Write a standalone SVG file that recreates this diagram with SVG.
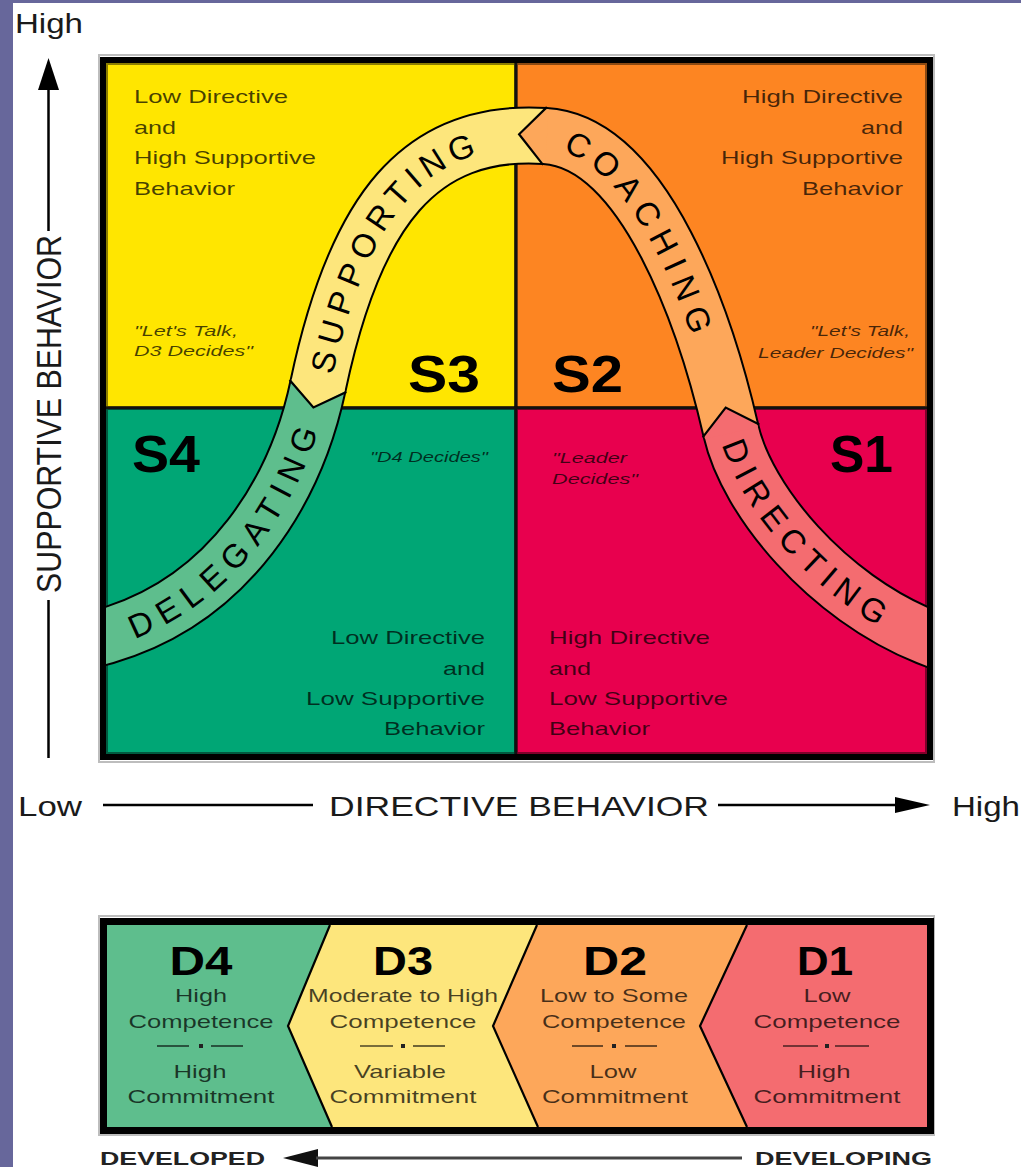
<svg xmlns="http://www.w3.org/2000/svg" width="1021" height="1167" viewBox="0 0 1021 1167">
<style>
text{font-family:"Liberation Sans",Arial,Helvetica,sans-serif}
.ax{font-size:28px;fill:#1a1a1a}
.q{font-size:19px;fill:#000;fill-opacity:.72}
.qi{font-size:14.5px;font-style:italic;fill:#000;fill-opacity:.72}
.s{font-size:52px;font-weight:bold;fill:#000}
.bt{font-size:33px;fill:#000;dominant-baseline:central;text-anchor:middle}
.dh{font-size:40px;font-weight:bold;fill:#000;text-anchor:middle}
.d{font-size:19px;fill:#000;fill-opacity:.72;text-anchor:middle}
.dev{font-size:19px;font-weight:bold;fill:#222}
.edge{fill:none;stroke:#000;stroke-opacity:.45;stroke-width:4}
.chev{fill:none;stroke:#000;stroke-width:2.2;stroke-linejoin:miter}
.sep{stroke:#000;stroke-opacity:.7;stroke-width:1.6}
.axl{stroke:#000;stroke-width:2.5}
.band{fill:none;stroke-width:54}
</style>
<defs>
<clipPath id="boxclip"><rect x="106" y="63" width="821" height="691"/></clipPath>
<path id="cl" d="M88,641 L106,636 C230,600 296,490 318,386 C355,210 420,128 545,136 C645,142 706,322 731,431 C747,501 827,597 927,637 L945,644"/>
<path id="t1" d="M106,636 C230,600 296,490 318,386"/>
<path id="t2" d="M318,386 C355,210 420,128 545,136"/>
<path id="t3" d="M545,136 C645,142 706,322 731,431"/>
<path id="t4" d="M731,431 C747,501 827,597 927,637"/>
</defs>

<rect x="0" y="0" width="1021" height="1167" fill="#fff"/>
<rect x="0" y="0" width="13" height="1167" fill="#67679B"/>
<rect x="0" y="0" width="1021" height="3" fill="#67679B"/>

<g id="axis-y">
<text class="ax" x="15" y="33" textLength="68" lengthAdjust="spacingAndGlyphs">High</text>
<polygon points="38,90 48.5,58 59,90" fill="#000"/>
<line class="axl" x1="48.5" y1="88" x2="48.5" y2="231"/>
<line class="axl" x1="48.5" y1="600" x2="48.5" y2="758"/>
<text class="ax" transform="translate(50,414) scale(1.22,1) rotate(-90)" text-anchor="middle" dominant-baseline="central" textLength="358" lengthAdjust="spacingAndGlyphs">SUPPORTIVE  BEHAVIOR</text>
</g>

<g id="axis-x">
<text class="ax" x="18" y="816" textLength="64" lengthAdjust="spacingAndGlyphs">Low</text>
<line class="axl" x1="103" y1="805" x2="313" y2="805"/>
<text class="ax" x="329" y="816" textLength="380" lengthAdjust="spacingAndGlyphs">DIRECTIVE  BEHAVIOR</text>
<line class="axl" x1="718" y1="805" x2="898" y2="805"/>
<polygon points="895,797 930,805 895,813" fill="#000"/>
<text class="ax" x="952" y="816" textLength="68" lengthAdjust="spacingAndGlyphs">High</text>
</g>

<rect x="99" y="55" width="835" height="707" fill="none" stroke="#bdbdbd" stroke-width="2"/>

<g id="q-s3">
<rect x="106" y="63" width="410" height="345" fill="#FFE600"/>
<rect class="edge" x="106" y="63" width="410" height="345"/>
<text class="q" x="134" y="103" textLength="154" lengthAdjust="spacingAndGlyphs">Low Directive</text>
<text class="q" x="134" y="134" textLength="42" lengthAdjust="spacingAndGlyphs">and</text>
<text class="q" x="134" y="164" textLength="182" lengthAdjust="spacingAndGlyphs">High Supportive</text>
<text class="q" x="134" y="195" textLength="101" lengthAdjust="spacingAndGlyphs">Behavior</text>
<text class="qi" x="134" y="336" textLength="104" lengthAdjust="spacingAndGlyphs">"Let's Talk,</text>
<text class="qi" x="134" y="356" textLength="119" lengthAdjust="spacingAndGlyphs">D3 Decides"</text>
<text class="s" x="408" y="392" textLength="72" lengthAdjust="spacingAndGlyphs">S3</text>
</g>

<g id="q-s2">
<rect x="516" y="63" width="411" height="345" fill="#FD8522"/>
<rect class="edge" x="516" y="63" width="411" height="345"/>
<text class="q" x="903" y="103" text-anchor="end" textLength="161" lengthAdjust="spacingAndGlyphs">High Directive</text>
<text class="q" x="903" y="134" text-anchor="end" textLength="42" lengthAdjust="spacingAndGlyphs">and</text>
<text class="q" x="903" y="164" text-anchor="end" textLength="182" lengthAdjust="spacingAndGlyphs">High Supportive</text>
<text class="q" x="903" y="195" text-anchor="end" textLength="101" lengthAdjust="spacingAndGlyphs">Behavior</text>
<text class="qi" x="910" y="336" text-anchor="end" textLength="100" lengthAdjust="spacingAndGlyphs">"Let's Talk,</text>
<text class="qi" x="913" y="358" text-anchor="end" textLength="155" lengthAdjust="spacingAndGlyphs">Leader Decides"</text>
<text class="s" x="552" y="392" textLength="71" lengthAdjust="spacingAndGlyphs">S2</text>
</g>

<g id="q-s4">
<rect x="106" y="408" width="410" height="346" fill="#00A675"/>
<rect class="edge" x="106" y="408" width="410" height="346"/>
<text class="s" x="132" y="472" textLength="68" lengthAdjust="spacingAndGlyphs">S4</text>
<text class="qi" x="370" y="462" textLength="118" lengthAdjust="spacingAndGlyphs">"D4 Decides"</text>
<text class="q" x="485" y="644" text-anchor="end" textLength="154" lengthAdjust="spacingAndGlyphs">Low Directive</text>
<text class="q" x="485" y="675" text-anchor="end" textLength="42" lengthAdjust="spacingAndGlyphs">and</text>
<text class="q" x="485" y="705" text-anchor="end" textLength="179" lengthAdjust="spacingAndGlyphs">Low Supportive</text>
<text class="q" x="485" y="735" text-anchor="end" textLength="101" lengthAdjust="spacingAndGlyphs">Behavior</text>
</g>

<g id="q-s1">
<rect x="516" y="408" width="411" height="346" fill="#E8004E"/>
<rect class="edge" x="516" y="408" width="411" height="346"/>
<text class="s" x="830" y="472" textLength="63" lengthAdjust="spacingAndGlyphs">S1</text>
<text class="qi" x="552" y="463" textLength="75" lengthAdjust="spacingAndGlyphs">"Leader</text>
<text class="qi" x="552" y="484" textLength="86" lengthAdjust="spacingAndGlyphs">Decides"</text>
<text class="q" x="549" y="644" textLength="161" lengthAdjust="spacingAndGlyphs">High Directive</text>
<text class="q" x="549" y="675" textLength="42" lengthAdjust="spacingAndGlyphs">and</text>
<text class="q" x="549" y="705" textLength="179" lengthAdjust="spacingAndGlyphs">Low Supportive</text>
<text class="q" x="549" y="735" textLength="101" lengthAdjust="spacingAndGlyphs">Behavior</text>
</g>

<g id="dividers">
<line x1="516" y1="63" x2="516" y2="754" stroke="#111" stroke-width="2.5"/>
<line x1="106" y1="408" x2="927" y2="408" stroke="#111" stroke-width="2.5"/>
</g>

<g id="connectors" clip-path="url(#boxclip)">
<use href="#cl" fill="none" stroke="#000" stroke-width="58"/>
<path class="band" stroke="#5EBE8D" d="M88,641 L106,636 C230,600 296,490 318,386"/>
<path class="band" stroke="#FDE67C" d="M318,386 C355,210 420,128 545,136"/>
<path class="band" stroke="#FDA75A" d="M545,136 C645,142 706,322 731,431"/>
<path class="band" stroke="#F46C70" d="M731,431 C747,501 827,597 927,637 L945,644"/>
<polygon fill="#FDE67C" points="292.0,378.4 291.6,380.4 313.4,407.5 344.4,391.6 344.8,389.6"/>
<polyline class="chev" points="289.6,380.0 313.4,407.5 346.4,392.0"/>
<polygon fill="#FDA75A" points="548.7,109.2 546.7,109.1 519.1,134.3 543.3,162.9 545.3,163.0"/>
<polyline class="chev" points="546.9,107.1 519.1,134.3 543.1,164.9"/>
<polygon fill="#F46C70" points="757.8,427.0 757.4,425.1 725.7,407.6 704.6,436.9 705.0,438.9"/>
<polyline class="chev" points="759.3,424.6 725.7,407.6 702.7,437.4"/>
<text class="bt" letter-spacing="7.4"><textPath href="#t1" startOffset="167">DELEGATING</textPath></text>
<text class="bt" letter-spacing="7.9"><textPath href="#t2" startOffset="162">SUPPORTING</textPath></text>
<text class="bt" letter-spacing="9"><textPath href="#t3" startOffset="148">COACHING</textPath></text>
<text class="bt" letter-spacing="6.9"><textPath href="#t4" startOffset="131">DIRECTING</textPath></text>
</g>

<rect x="103" y="60" width="827" height="697" fill="none" stroke="#000" stroke-width="6"/>

<rect x="99" y="916" width="835" height="219" fill="none" stroke="#bdbdbd" stroke-width="2"/>

<g id="d4">
<polygon points="107,925 330,925 288,1026 332,1127 107,1127" fill="#5EBE8D"/>
<text class="dh" x="201" y="975" textLength="63" lengthAdjust="spacingAndGlyphs">D4</text>
<text class="d" x="201" y="1002" textLength="52" lengthAdjust="spacingAndGlyphs">High</text>
<text class="d" x="201" y="1028" textLength="145" lengthAdjust="spacingAndGlyphs">Competence</text>
<line class="sep" x1="157" y1="1046" x2="189" y2="1046"/><rect x="199" y="1044" width="4" height="4" fill="#222"/><line class="sep" x1="211" y1="1046" x2="243" y2="1046"/>
<text class="d" x="200" y="1078" textLength="53" lengthAdjust="spacingAndGlyphs">High</text>
<text class="d" x="201" y="1103" textLength="147" lengthAdjust="spacingAndGlyphs">Commitment</text>
</g>

<g id="d3">
<polygon points="330,925 537,925 493,1026 538,1127 332,1127 288,1026" fill="#FDE67C"/>
<text class="dh" x="403" y="975" textLength="60" lengthAdjust="spacingAndGlyphs">D3</text>
<text class="d" x="403" y="1002" textLength="190" lengthAdjust="spacingAndGlyphs">Moderate to High</text>
<text class="d" x="403" y="1028" textLength="147" lengthAdjust="spacingAndGlyphs">Competence</text>
<line class="sep" x1="360" y1="1046" x2="393" y2="1046"/><rect x="401" y="1044" width="4" height="4" fill="#222"/><line class="sep" x1="413" y1="1046" x2="445" y2="1046"/>
<text class="d" x="400" y="1078" textLength="92" lengthAdjust="spacingAndGlyphs">Variable</text>
<text class="d" x="403" y="1103" textLength="147" lengthAdjust="spacingAndGlyphs">Commitment</text>
</g>

<g id="d2">
<polygon points="537,925 747,925 700,1026 747,1127 538,1127 493,1026" fill="#FDA75A"/>
<text class="dh" x="615" y="975" textLength="64" lengthAdjust="spacingAndGlyphs">D2</text>
<text class="d" x="614" y="1002" textLength="148" lengthAdjust="spacingAndGlyphs">Low to Some</text>
<text class="d" x="614" y="1028" textLength="144" lengthAdjust="spacingAndGlyphs">Competence</text>
<line class="sep" x1="572" y1="1046" x2="603" y2="1046"/><rect x="612" y="1044" width="4" height="4" fill="#222"/><line class="sep" x1="625" y1="1046" x2="657" y2="1046"/>
<text class="d" x="613" y="1078" textLength="47" lengthAdjust="spacingAndGlyphs">Low</text>
<text class="d" x="615" y="1103" textLength="146" lengthAdjust="spacingAndGlyphs">Commitment</text>
</g>

<g id="d1">
<polygon points="747,925 927,925 927,1127 747,1127 700,1026" fill="#F46C70"/>
<text class="dh" x="825" y="975" textLength="56" lengthAdjust="spacingAndGlyphs">D1</text>
<text class="d" x="827" y="1002" textLength="47" lengthAdjust="spacingAndGlyphs">Low</text>
<text class="d" x="827" y="1028" textLength="147" lengthAdjust="spacingAndGlyphs">Competence</text>
<line class="sep" x1="783" y1="1046" x2="818" y2="1046"/><rect x="825" y="1044" width="4" height="4" fill="#222"/><line class="sep" x1="835" y1="1046" x2="869" y2="1046"/>
<text class="d" x="824" y="1078" textLength="53" lengthAdjust="spacingAndGlyphs">High</text>
<text class="d" x="827" y="1103" textLength="147" lengthAdjust="spacingAndGlyphs">Commitment</text>
</g>

<g id="d-chevrons">
<polyline class="chev" points="330,925 288,1026 332,1127"/>
<polyline class="chev" points="537,925 493,1026 538,1127"/>
<polyline class="chev" points="747,925 700,1026 747,1127"/>
</g>

<rect x="103.5" y="921.5" width="827" height="209" fill="none" stroke="#000" stroke-width="7"/>

<g id="dev-axis">
<text class="dev" x="100" y="1165" textLength="165" lengthAdjust="spacingAndGlyphs">DEVELOPED</text>
<polygon points="318,1149 283,1158 318,1167" fill="#111"/>
<line x1="316" y1="1158" x2="742" y2="1158" stroke="#444" stroke-width="3"/>
<text class="dev" x="755" y="1165" textLength="177" lengthAdjust="spacingAndGlyphs">DEVELOPING</text>
</g>
</svg>
